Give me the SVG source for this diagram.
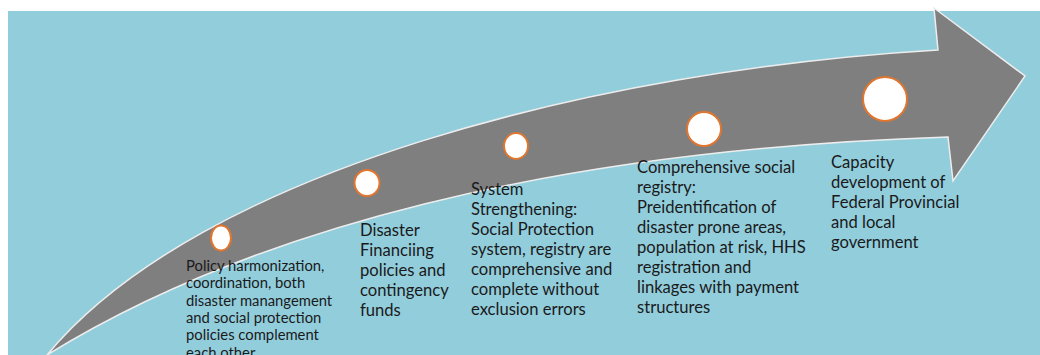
<svg xmlns="http://www.w3.org/2000/svg" width="1040" height="355" viewBox="0 0 1040 355">
  <style>
    .bg { fill: #92CDDC; }
    .arrow { fill: #7F7F7F; stroke: #EDEDED; stroke-width: 1.5; stroke-linejoin: miter; }
    .dot { fill: #FFFFFF; stroke: #E0762F; stroke-width: 2; }
    .lbl { font-family: Lato, "Liberation Sans", sans-serif; font-size: 16.6px; fill: #1A1A1A; }
    .lbl-s { font-family: Lato, "Liberation Sans", sans-serif; font-size: 14.8px; fill: #1A1A1A; }
  </style>
  <rect class="bg" x="8" y="11" width="1032" height="344"/>
  <g id="connectors">
    <path id="timeline-arrow" class="arrow" d="M47,355 C200,170 600,70 938,50 L934,8 L1025,76 L953,181 L948,137 C550,150 250,230 47,355 Z"/>
  </g>
  <g id="step1">
    <ellipse class="dot" cx="221" cy="238" rx="10" ry="12.5"/>
    <text class="lbl-s">
      <tspan x="186" y="271">Policy harmonization,</tspan>
      <tspan x="186" y="288.3">coordination, both</tspan>
      <tspan x="186" y="305.6">disaster manangement</tspan>
      <tspan x="186" y="322.9">and social protection</tspan>
      <tspan x="186" y="340.2">policies complement</tspan>
      <tspan x="186" y="357.5">each other</tspan>
    </text>
  </g>
  <g id="step2">
    <ellipse class="dot" cx="367" cy="183" rx="12.5" ry="13"/>
    <text class="lbl">
      <tspan x="360" y="236">Disaster</tspan>
      <tspan x="360" y="256">Financiing</tspan>
      <tspan x="360" y="276">policies and</tspan>
      <tspan x="360" y="296">contingency</tspan>
      <tspan x="360" y="316">funds</tspan>
    </text>
  </g>
  <g id="step3">
    <ellipse class="dot" cx="516" cy="146" rx="12" ry="13"/>
    <text class="lbl">
      <tspan x="471" y="195">System</tspan>
      <tspan x="471" y="215">Strengthening:</tspan>
      <tspan x="471" y="235">Social Protection</tspan>
      <tspan x="471" y="255">system, registry are</tspan>
      <tspan x="471" y="275">comprehensive and</tspan>
      <tspan x="471" y="295">complete without</tspan>
      <tspan x="471" y="315">exclusion errors</tspan>
    </text>
  </g>
  <g id="step4">
    <circle class="dot" cx="704" cy="129" r="17"/>
    <text class="lbl">
      <tspan x="637" y="173">Comprehensive social</tspan>
      <tspan x="637" y="193">registry:</tspan>
      <tspan x="637" y="213">Preidentification of</tspan>
      <tspan x="637" y="233">disaster prone areas,</tspan>
      <tspan x="637" y="253">population at risk, HHS</tspan>
      <tspan x="637" y="273">registration and</tspan>
      <tspan x="637" y="293">linkages with payment</tspan>
      <tspan x="637" y="313">structures</tspan>
    </text>
  </g>
  <g id="step5">
    <circle class="dot" cx="885" cy="99" r="22"/>
    <text class="lbl">
      <tspan x="831" y="168">Capacity</tspan>
      <tspan x="831" y="188">development of</tspan>
      <tspan x="831" y="208">Federal Provincial</tspan>
      <tspan x="831" y="228">and local</tspan>
      <tspan x="831" y="248">government</tspan>
    </text>
  </g>
</svg>
